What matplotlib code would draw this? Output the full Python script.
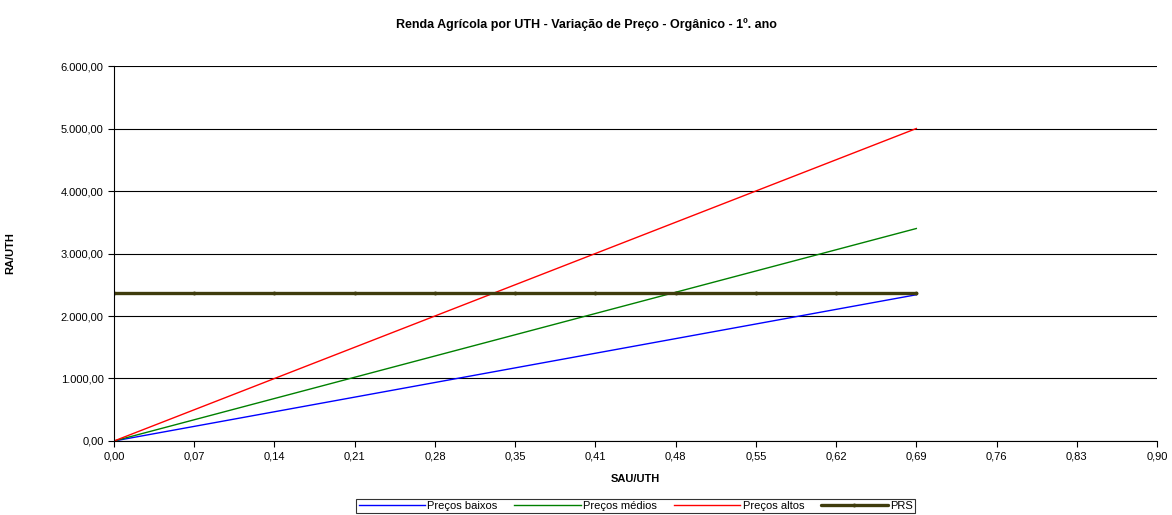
import matplotlib
matplotlib.use("Agg")
import matplotlib.pyplot as plt

plt.rcParams["font.family"] = ["Liberation Sans", "DejaVu Sans"]

# categories on the x axis (SAU/UTH)
x_labels = ["0,00", "0,07", "0,14", "0,21", "0,28", "0,35", "0,41",
            "0,48", "0,55", "0,62", "0,69", "0,76", "0,83", "0,90"]

# series values (RA/UTH), one per category up to 0,69
precos_baixos = [0, 234, 468, 702, 936, 1170, 1404, 1638, 1872, 2106, 2340]
precos_medios = [0, 340, 680, 1020, 1360, 1700, 2040, 2380, 2720, 3060, 3400]
precos_altos = [0, 500, 1000, 1500, 2000, 2500, 3000, 3500, 4000, 4500, 5000]
prs = [2370] * 11

y_ticks = [0, 1000, 2000, 3000, 4000, 5000, 6000]
y_labels = ["0,00", "1.000,00", "2.000,00", "3.000,00", "4.000,00", "5.000,00", "6.000,00"]

fig = plt.figure(figsize=(11.72, 5.15), dpi=100)
ax = fig.add_axes([0.0973, 0.1437, 0.8899, 0.7281])

pos = list(range(len(precos_baixos)))
ax.plot(pos, precos_baixos, color="#0000ff", lw=1.0, label="Preços baixos")
ax.plot(pos, precos_medios, color="#008000", lw=1.0, label="Preços médios")
ax.plot(pos, precos_altos, color="#ff0000", lw=1.0, label="Preços altos")
ax.plot(pos, prs, color="#3f3c0c", lw=2.4, marker="o", ms=1.8, label="PRS",
        solid_capstyle="round")

ax.set_xlim(0, len(x_labels) - 1)
ax.set_ylim(0, 6000)
ax.set_xticks(range(len(x_labels)))
ax.set_xticklabels(x_labels, fontsize=8)
ax.set_yticks(y_ticks)
ax.set_yticklabels(y_labels, fontsize=8)
ax.tick_params(direction="out", length=4, width=0.8, color="black")
ax.yaxis.grid(True, color="black", lw=0.8)
ax.set_axisbelow(True)

for side in ["top", "right"]:
    ax.spines[side].set_visible(False)
ax.spines["left"].set_color("black")
ax.spines["bottom"].set_color("black")

ax.set_xlabel("SAU/UTH", fontsize=8, fontweight="bold", labelpad=9)
ax.set_ylabel("RA/UTH", fontsize=8, fontweight="bold")
ax.yaxis.set_label_coords(-0.095, 0.5)
fig.text(0.5, 0.953, "Renda Agrícola por UTH - Variação de Preço - Orgânico - 1º. ano",
         ha="center", va="center", fontsize=9, fontweight="bold")

leg = ax.legend(loc="upper center", bbox_to_anchor=(0.5, -0.14), ncol=4,
                fontsize=8, frameon=True, fancybox=False, handlelength=6,
                handletextpad=0.2, columnspacing=1.5, borderpad=0.2)
leg.get_frame().set_edgecolor("black")
leg.get_frame().set_linewidth(0.8)

fig.savefig("out.png", dpi=100)
